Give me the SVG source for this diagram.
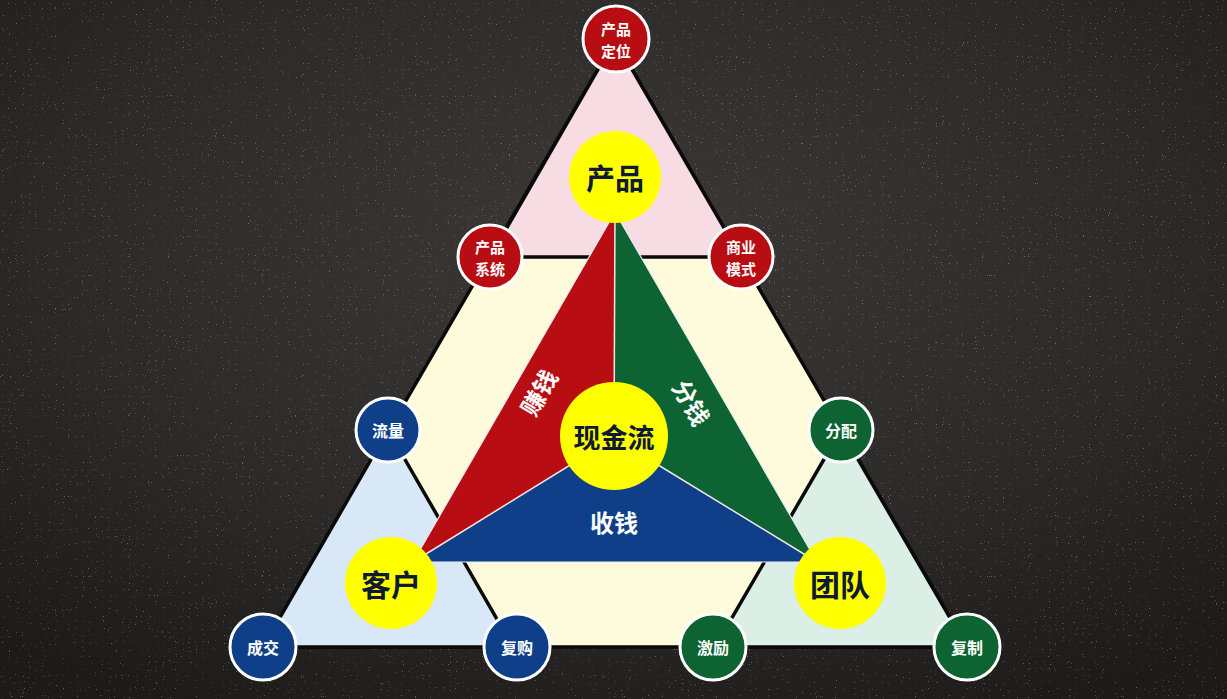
<svg xmlns="http://www.w3.org/2000/svg" width="1227" height="699" viewBox="0 0 1227 699">
<defs>
<radialGradient id="bg" cx="50%" cy="35%" r="75%">
<stop offset="0" stop-color="#3b3836"/>
<stop offset="0.6" stop-color="#2c2a28"/>
<stop offset="1" stop-color="#1c1b1a"/>
</radialGradient>
<filter id="noise" x="0" y="0" width="100%" height="100%">
<feTurbulence type="fractalNoise" baseFrequency="0.85" numOctaves="1" seed="7"/>
<feColorMatrix type="matrix" values="0 0 0 0 0.78  0 0 0 0 0.72  0 0 0 0 0.55  14 0 0 0 -9.6"/>
</filter>
<style>
.edge{stroke:#0a0a0a;stroke-width:3.5;stroke-linejoin:round}
.sep{stroke:#f2e6e6;stroke-width:1.5}
.sc{stroke:#ffffff;stroke-width:3}
.red{fill:#b80d12}
.blu{fill:#0f3f88}
.grn{fill:#0d6331}
.ylw{fill:#ffff00}
.st{font-family:"Noto Sans CJK SC","Noto Sans",sans-serif;font-weight:700;fill:#ffffff;font-size:16px;text-anchor:middle;dominant-baseline:central}
.st2{font-family:"Noto Sans CJK SC","Noto Sans",sans-serif;font-weight:700;fill:#ffffff;font-size:15px;text-anchor:middle;dominant-baseline:central}
.yt{font-family:"Noto Sans CJK SC","Noto Sans",sans-serif;font-weight:700;fill:#0e1a33;text-anchor:middle;dominant-baseline:central}
.wt{font-family:"Noto Sans CJK SC","Noto Sans",sans-serif;font-weight:700;fill:#ffffff;font-size:24px;text-anchor:middle;dominant-baseline:central}
</style>
</defs>
<rect width="1227" height="699" fill="url(#bg)"/>
<rect width="1227" height="699" filter="url(#noise)" opacity="0.35"/>

<g id="frame">
<polygon class="edge" points="615,40 263,647 967,647" fill="#fdfbdb"/>
<polygon id="tri-top" class="edge" points="615,40 490,257 741,257" fill="#f7dce3"/>
<polygon id="tri-left" class="edge" points="388,430 263,647 513,647" fill="#d9e8f7"/>
<polygon id="tri-right" class="edge" points="841,430 715,647 967,647" fill="#dbefe6"/>
</g>

<g id="center">
<polygon class="red" points="615,212 614,438 413,562"/>
<polygon class="grn" points="615,212 817,562 614,438"/>
<polygon class="blu" points="413,562 614,438 817,562"/>
<g class="sep">
<line x1="615" y1="212" x2="614" y2="438"/>
<line x1="614" y1="438" x2="413" y2="562"/>
<line x1="614" y1="438" x2="817" y2="562"/>
</g>
<polygon points="615,212 413,562 817,562" fill="none" stroke="#e8eef2" stroke-width="1.2"/>
<text class="wt" transform="translate(538,392) rotate(-60)">赚钱</text>
<text class="wt" transform="translate(692,402) rotate(60)">分钱</text>
<text class="wt" x="614" y="521">收钱</text>
</g>

<g id="node-product"><circle class="ylw" cx="615" cy="177" r="46"/><text class="yt" x="615" y="177" font-size="29">产品</text></g>
<g id="node-cash"><circle class="ylw" cx="614" cy="436" r="54"/><text class="yt" x="614" y="436" font-size="27">现金流</text></g>
<g id="node-customer"><circle class="ylw" cx="391" cy="583" r="46"/><text class="yt" x="391" y="583" font-size="30">客户</text></g>
<g id="node-team"><circle class="ylw" cx="840" cy="583" r="46"/><text class="yt" x="840" y="583" font-size="30">团队</text></g>

<g id="node-positioning"><circle class="red sc" cx="616" cy="39" r="33"/><text class="st2" x="616" y="28">产品</text><text class="st2" x="616" y="50">定位</text></g>
<g id="node-system"><circle class="red sc" cx="490" cy="257" r="32"/><text class="st2" x="490" y="246">产品</text><text class="st2" x="490" y="268">系统</text></g>
<g id="node-model"><circle class="red sc" cx="741" cy="257" r="32"/><text class="st2" x="741" y="246">商业</text><text class="st2" x="741" y="268">模式</text></g>

<g id="node-traffic"><circle class="blu sc" cx="388" cy="430" r="32"/><text class="st" x="388" y="430">流量</text></g>
<g id="node-deal"><circle class="blu sc" cx="263" cy="647" r="33"/><text class="st" x="263" y="647">成交</text></g>
<g id="node-rebuy"><circle class="blu sc" cx="517" cy="647" r="33"/><text class="st" x="517" y="647">复购</text></g>

<g id="node-distribute"><circle class="grn sc" cx="841" cy="430" r="32"/><text class="st" x="841" y="430">分配</text></g>
<g id="node-incentive"><circle class="grn sc" cx="713" cy="647" r="33"/><text class="st" x="713" y="647">激励</text></g>
<g id="node-copy"><circle class="grn sc" cx="967" cy="647" r="33"/><text class="st" x="967" y="647">复制</text></g>
</svg>
